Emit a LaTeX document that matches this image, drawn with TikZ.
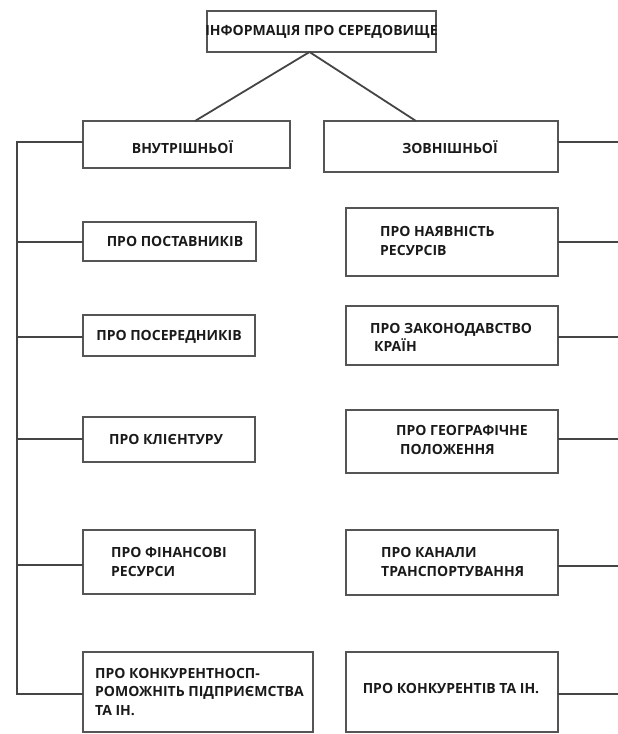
\documentclass[tikz,border=0pt]{standalone}
\usepackage{fontspec}
\setmainfont{Open Sans}
\usetikzlibrary{calc}
\definecolor{boxgray}{HTML}{555555}
\definecolor{linecol}{HTML}{454545}
\definecolor{txtcol}{HTML}{1A1A1A}
\begin{document}
\begin{tikzpicture}[x=1pt,y=-1pt,
  box/.style={draw=boxgray, line width=1.6pt, rectangle, inner sep=0pt, outer sep=0pt},
  lbl/.style={font=\bfseries\fontsize{14}{18.5}\selectfont, text=txtcol, inner sep=0pt, align=left},
  conn/.style={draw=linecol, line width=1.8pt}]
\fill[white] (0,0) rectangle (618,734);
\useasboundingbox (0,0) rectangle (618,734);
% boxes
\node[box, minimum width=229pt, minimum height=41pt] (top) at (321.5,31.5) {};
\node[box, minimum width=207pt, minimum height=47pt] (vn) at (186.5,144.5) {};
\node[box, minimum width=234pt, minimum height=51pt] (zov) at (441,146.5) {};
\node[box, minimum width=173pt, minimum height=39pt] (L1) at (169.5,241.5) {};
\node[box, minimum width=172pt, minimum height=41pt] (L2) at (169,335.5) {};
\node[box, minimum width=172pt, minimum height=45pt] (L3) at (169,439.5) {};
\node[box, minimum width=172pt, minimum height=64pt] (L4) at (169,562) {};
\node[box, minimum width=230pt, minimum height=80pt] (L5) at (198,692) {};
\node[box, minimum width=212pt, minimum height=68pt] (R1) at (452,242) {};
\node[box, minimum width=212pt, minimum height=59pt] (R2) at (452,335.5) {};
\node[box, minimum width=212pt, minimum height=63pt] (R3) at (452,441.5) {};
\node[box, minimum width=212pt, minimum height=65pt] (R4) at (452,562.5) {};
\node[box, minimum width=212pt, minimum height=80pt] (R5) at (452,692) {};
% texts
\node[lbl] (ttop) at (321.5,32) {ІНФОРМАЦІЯ ПРО СЕРЕДОВИЩЕ};
\node[lbl] (tvn) at (182.5,147) {ВНУТРІШНЬОЇ};
\node[lbl] (tzov) at (450,147) {ЗОВНІШНЬОЇ};
\node[lbl] (tL1) at (175,241) {ПРО ПОСТАВНИКІВ};
\node[lbl] (tL2) at (169,337) {ПРО ПОСЕРЕДНИКІВ};
\node[lbl] (tL3) at (166,439) {ПРО КЛІЄНТУРУ};
\node[lbl, anchor=west] (tL4) at (111,562) {ПРО ФІНАНСОВІ\\РЕСУРСИ};
\node[lbl, anchor=west] (tL5) at (95,692) {ПРО КОНКУРЕНТНОСП-\\РОМОЖНІТЬ ПІДПРИЄМСТВА\\ТА ІН.};
\node[lbl, anchor=west] (tR1) at (380,241) {ПРО НАЯВНІСТЬ\\РЕСУРСІВ};
\node[lbl, anchor=west] (tR2) at (370,337.5) {ПРО ЗАКОНОДАВСТВО\\\hspace*{4pt}КРАЇН};
\node[lbl, anchor=west] (tR3) at (396,440) {ПРО ГЕОГРАФІЧНЕ\\\hspace*{4pt}ПОЛОЖЕННЯ};
\node[lbl, anchor=west] (tR4) at (381,562) {ПРО КАНАЛИ\\ТРАНСПОРТУВАННЯ};
\node[lbl] (tR5) at (451,689) {ПРО КОНКУРЕНТІВ ТА ІН.};
% bus coordinates
\coordinate (lbus) at (17,0);
\coordinate (rbus) at (618,0);
% connectors
\draw[conn] ([xshift=-12pt]top.south) -- ([xshift=8.5pt]vn.north);
\draw[conn] ([xshift=-12pt]top.south) -- ([xshift=-25pt]zov.north);
\draw[conn] ([yshift=2.5pt]vn.west) -- ([yshift=2.5pt]vn.west -| lbus) -- ([yshift=-2pt]L5.west -| lbus) -- ([yshift=-2pt]L5.west);
\foreach \b/\s in {L1/-0.5,L2/-1.5,L3/0.5,L4/-3} {\draw[conn] ([yshift=\s pt]\b.west) -- ([yshift=\s pt]\b.west -| lbus);}
\draw[conn] ([yshift=4.5pt]zov.east) -- ([yshift=4.5pt]zov.east -| rbus);
\foreach \b/\s in {R1/0,R2/-1.5,R3/2.5,R4/-3.5} {\draw[conn] ([yshift=\s pt]\b.east) -- ([yshift=\s pt]\b.east -| rbus);}
\draw[conn] ([yshift=-2pt]R5.east) -- ([yshift=-2pt]R5.east -| rbus);
\end{tikzpicture}
\end{document}
